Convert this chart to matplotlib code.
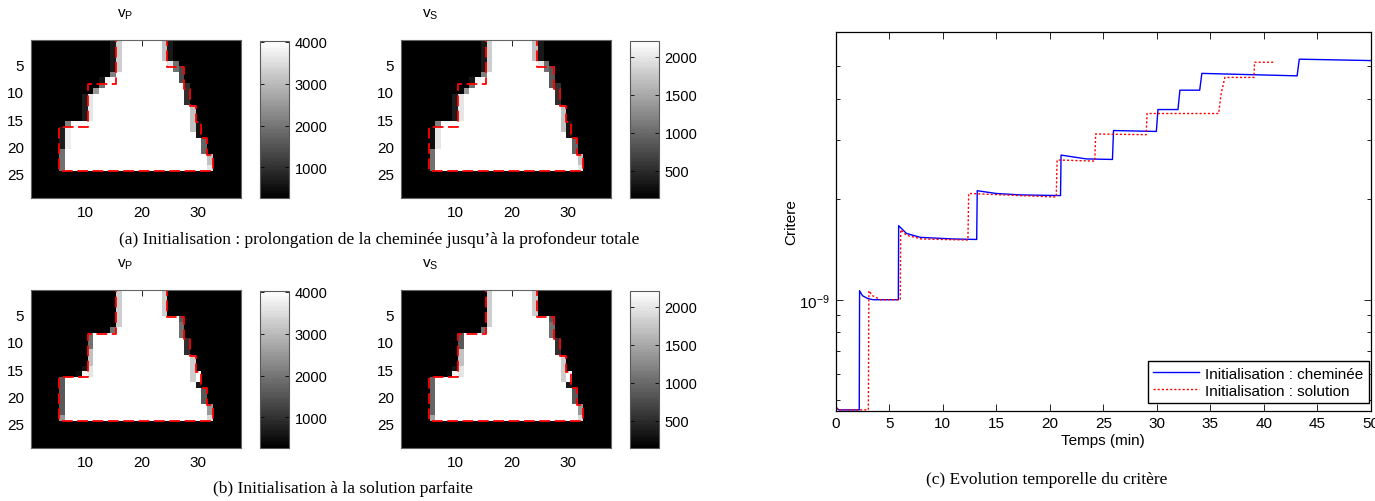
import numpy as np
import matplotlib
matplotlib.use('Agg')
from matplotlib import pyplot as plt
from matplotlib.ticker import NullFormatter, LogLocator, FixedLocator

W, H = 1375, 502
n_rows, n_cols = 29, 37

# true chimney : (first row, last row, first col, last col)
true_blocks = [(1, 5, 16, 24), (6, 8, 16, 27), (9, 9, 11, 27), (10, 12, 11, 28),
               (13, 15, 11, 29), (16, 16, 11, 30), (17, 18, 6, 30), (19, 21, 6, 31),
               (22, 24, 6, 32)]

vp_range = (260, 4020)
vs_range = (140, 2210)
vp_ticks = [1000, 2000, 3000, 4000]
vs_ticks = [500, 1000, 1500, 2000]

# edge cells of the inverted models : (row0, row1, col, fraction of colour range)
chem_vp_edges = [(1, 6, 15, 0.1), (1, 6, 16, 0.8), (7, 7, 15, 0.5),
                 (8, 8, 13, 0.08), (8, 8, 14, 0.95), (8, 8, 15, 1.0),
                 (9, 9, 11, 0.0), (9, 9, 12, 0.0), (9, 9, 13, 0.45),
                 (10, 10, 11, 0.0), (10, 10, 12, 0.6),
                 (11, 15, 10, 0.12), (11, 15, 11, 0.9),
                 (16, 16, 7, 0.5), (16, 16, 8, 0.97), (16, 16, 9, 0.97), (16, 16, 10, 0.97),
                 (17, 20, 6, 0.12), (17, 20, 7, 0.93), (21, 24, 6, 0.45),
                 (1, 4, 24, 0.75), (1, 4, 25, 0.1), (5, 5, 25, 0.9), (5, 6, 26, 0.45),
                 (6, 8, 27, 0.3), (9, 12, 28, 0.2),
                 (13, 17, 29, 0.75), (16, 18, 30, 0.08),
                 (19, 21, 31, 0.4), (22, 23, 32, 0.75), (24, 24, 32, 0.9)]
chem_vs_edges = chem_vp_edges + [(17, 20, 6, 0.05), (17, 20, 7, 0.9), (6, 9, 27, 0.35)]

sol_vp_edges = [(1, 7, 16, 0.8), (8, 8, 15, 0.45),
                (9, 11, 11, 0.45), (12, 14, 11, 0.75), (15, 16, 11, 0.9),
                (15, 15, 10, 0.08), (16, 16, 9, 0.05), (16, 16, 10, 0.95),
                (17, 23, 6, 0.35), (24, 24, 6, 0.6),
                (1, 5, 24, 0.8), (6, 6, 27, 0.35), (7, 9, 27, 0.45), (10, 12, 28, 0.2),
                (13, 17, 29, 0.8), (18, 18, 30, 0.1), (19, 21, 31, 0.35),
                (22, 23, 32, 0.6), (24, 24, 32, 0.85)]
sol_vs_edges = sol_vp_edges + [(17, 23, 6, 0.4), (24, 24, 6, 0.65), (9, 11, 11, 0.35)]

# criterion vs time
t_chem = [0, 0.05, 0.3, 2.2, 2.23, 2.5, 3.0, 3.5, 5.85, 5.88, 6.6, 7.9, 11, 13.17, 13.22,
          15, 17.2, 21.0, 21.05, 23.4, 25.85, 25.95, 29.95, 30.1, 31.97, 32.15, 34.0, 34.2,
          43.1, 43.3, 50]
c_chem = [1e-7, 4.75e-10, 4.68e-10, 4.68e-10, 1.064e-9, 1.028e-9, 1.008e-9, 1.0e-9, 1.0e-9,
          1.666e-9, 1.58e-9, 1.537e-9, 1.52e-9, 1.515e-9, 2.12e-9, 2.08e-9, 2.06e-9, 2.05e-9,
          2.71e-9, 2.64e-9, 2.63e-9, 3.21e-9, 3.19e-9, 3.71e-9, 3.71e-9, 4.24e-9, 4.24e-9,
          4.76e-9, 4.68e-9, 5.25e-9, 5.2e-9]
t_sol = [0, 0.05, 0.3, 3.05, 3.1, 3.4, 4.2, 6.03, 6.07, 6.6, 8, 12.35, 12.42, 20.6, 20.68,
         24.2, 24.28, 29.0, 29.08, 35.77, 36.0, 36.35, 39.07, 39.12, 41.0]
c_sol = [1e-7, 4.75e-10, 4.68e-10, 4.68e-10, 1.064e-9, 1.03e-9, 1.0e-9, 1.0e-9, 1.62e-9,
         1.56e-9, 1.52e-9, 1.509e-9, 2.08e-9, 2.03e-9, 2.62e-9, 2.6e-9, 3.135e-9, 3.12e-9,
         3.61e-9, 3.61e-9, 4.13e-9, 4.63e-9, 4.63e-9, 5.14e-9, 5.14e-9]
minor_y = [5e-10, 6e-10, 7e-10, 8e-10, 9e-10, 2e-9, 3e-9, 4e-9, 5e-9]

plt.rcParams['font.family'] = ['Liberation Sans', 'DejaVu Sans']
plt.rcParams['font.size'] = 11

fig = plt.figure(figsize=(W / 100, H / 100), dpi=100)


def px_axes(x0, y0, x1, y1):
    return fig.add_axes([x0 / W, 1 - y1 / H, (x1 - x0) / W, (y1 - y0) / H])


def build(blocks, edges, lo, hi):
    frac = np.zeros((n_rows, n_cols))
    for r0, r1, c0, c1 in blocks:
        frac[r0 - 1:r1, c0 - 1:c1] = 1
    for r0, r1, c, f in edges:
        frac[r0 - 1:r1, c - 1] = f
    return lo + frac * (hi - lo)


def contour_xy(blocks):
    pts = [(blocks[0][2] - 0.5, 0.5), (blocks[0][3] + 0.5, 0.5)]
    for r0, r1, c0, c1 in blocks:
        pts += [(c1 + 0.5, r0 - 0.5), (c1 + 0.5, r1 + 0.5)]
    for r0, r1, c0, c1 in blocks[::-1]:
        pts += [(c0 - 0.5, r1 + 0.5), (c0 - 0.5, r0 - 0.5)]
    pts.append(pts[0])
    return [p[0] for p in pts], [p[1] for p in pts]


cmap = plt.get_cmap('gray', 64)
cx, cy = contour_xy(true_blocks)


def panel(x0, y0, edges, rng, cticks):
    ax = px_axes(x0, y0, x0 + 210, y0 + 158.3)
    img = build(true_blocks, edges, rng[0], rng[1])
    im = ax.imshow(img, cmap=cmap, vmin=rng[0], vmax=rng[1], aspect='auto',
                   interpolation='nearest', extent=[0.5, n_cols + 0.5, n_rows + 0.5, 0.5])
    ax.plot(cx, cy, color='red', lw=1.3, ls=(0, (6, 2.5)))
    ax.set_xlim(0.5, n_cols + 0.5)
    ax.set_ylim(n_rows + 0.5, 0.5)
    ax.set_xticks([10, 20, 30])
    ax.set_yticks([5, 10, 15, 20, 25])
    ax.tick_params(direction='in', top=True, right=True, length=4, width=0.6,
                   labelsize=11, pad=5)
    for s in ax.spines.values():
        s.set_color('0.4')
        s.set_linewidth(0.8)
    cax = px_axes(x0 + 229, y0 + 1, x0 + 258, y0 + 158.3)
    cb = fig.colorbar(im, cax=cax, ticks=cticks)
    cb.outline.set_edgecolor('0.35')
    cb.outline.set_linewidth(0.8)
    cax.tick_params(direction='in', left=True, right=True, length=3, width=0.6,
                    labelsize=10.5, pad=4)
    return ax


panel(31, 41, chem_vp_edges, vp_range, vp_ticks)
panel(401, 41, chem_vs_edges, vs_range, vs_ticks)
panel(31, 291, sol_vp_edges, vp_range, vp_ticks)
panel(401, 291, sol_vs_edges, vs_range, vs_ticks)

for x, y, s in [(125, 15, 'v$_\\mathregular{P}$'), (430, 15, 'v$_\\mathregular{S}$'),
                (125, 265, 'v$_\\mathregular{P}$'), (430, 265, 'v$_\\mathregular{S}$')]:
    fig.text(x / W, 1 - y / H, s, ha='center', va='center', fontsize=11)

serif = ['Liberation Serif', 'DejaVu Serif']
fig.text(379 / W, 1 - 240 / H, "(a) Initialisation : prolongation de la cheminée jusqu’à la profondeur totale",
         ha='center', va='center', family=serif, fontsize=12.5)
fig.text(343 / W, 1 - 489 / H, "(b) Initialisation à la solution parfaite",
         ha='center', va='center', family=serif, fontsize=12.5)
fig.text(1047 / W, 1 - 480 / H, "(c) Evolution temporelle du critère",
         ha='center', va='center', family=serif, fontsize=12.5)

# criterion plot
ax = px_axes(835.7, 32.7, 1371, 411.7)
ax.plot(t_chem, c_chem, color='blue', lw=1.0, label='Initialisation : cheminée')
ax.plot(t_sol, c_sol, color='red', lw=1.0, ls=(0, (1.5, 1.5)), label='Initialisation : solution')
ax.set_yscale('log')
ax.set_xlim(0, 50)
ax.set_ylim(4.653e-10, 6.345e-9)
ax.set_xticks(np.arange(0, 51, 5))
ax.yaxis.set_major_locator(LogLocator(base=10))
ax.yaxis.set_minor_locator(FixedLocator(minor_y))
ax.yaxis.set_minor_formatter(NullFormatter())
ax.tick_params(which='major', direction='in', top=True, right=True, length=5, width=0.6, pad=4)
ax.tick_params(which='minor', direction='in', top=True, right=True, length=3, width=0.6)
ax.set_xlabel('Temps (min)', labelpad=2)
ax.set_ylabel('Critere', labelpad=1)
for s in ax.spines.values():
    s.set_linewidth(0.9)
leg = ax.legend(loc='lower right', bbox_to_anchor=(0.9963, 0.0203), borderaxespad=0,
                fancybox=False, framealpha=1, edgecolor='black', handlelength=3.0,
                handletextpad=0.4, labelspacing=0.2, borderpad=0.35, fontsize=11)
leg.get_frame().set_linewidth(1.0)

fig.savefig('out.png', dpi=100)
